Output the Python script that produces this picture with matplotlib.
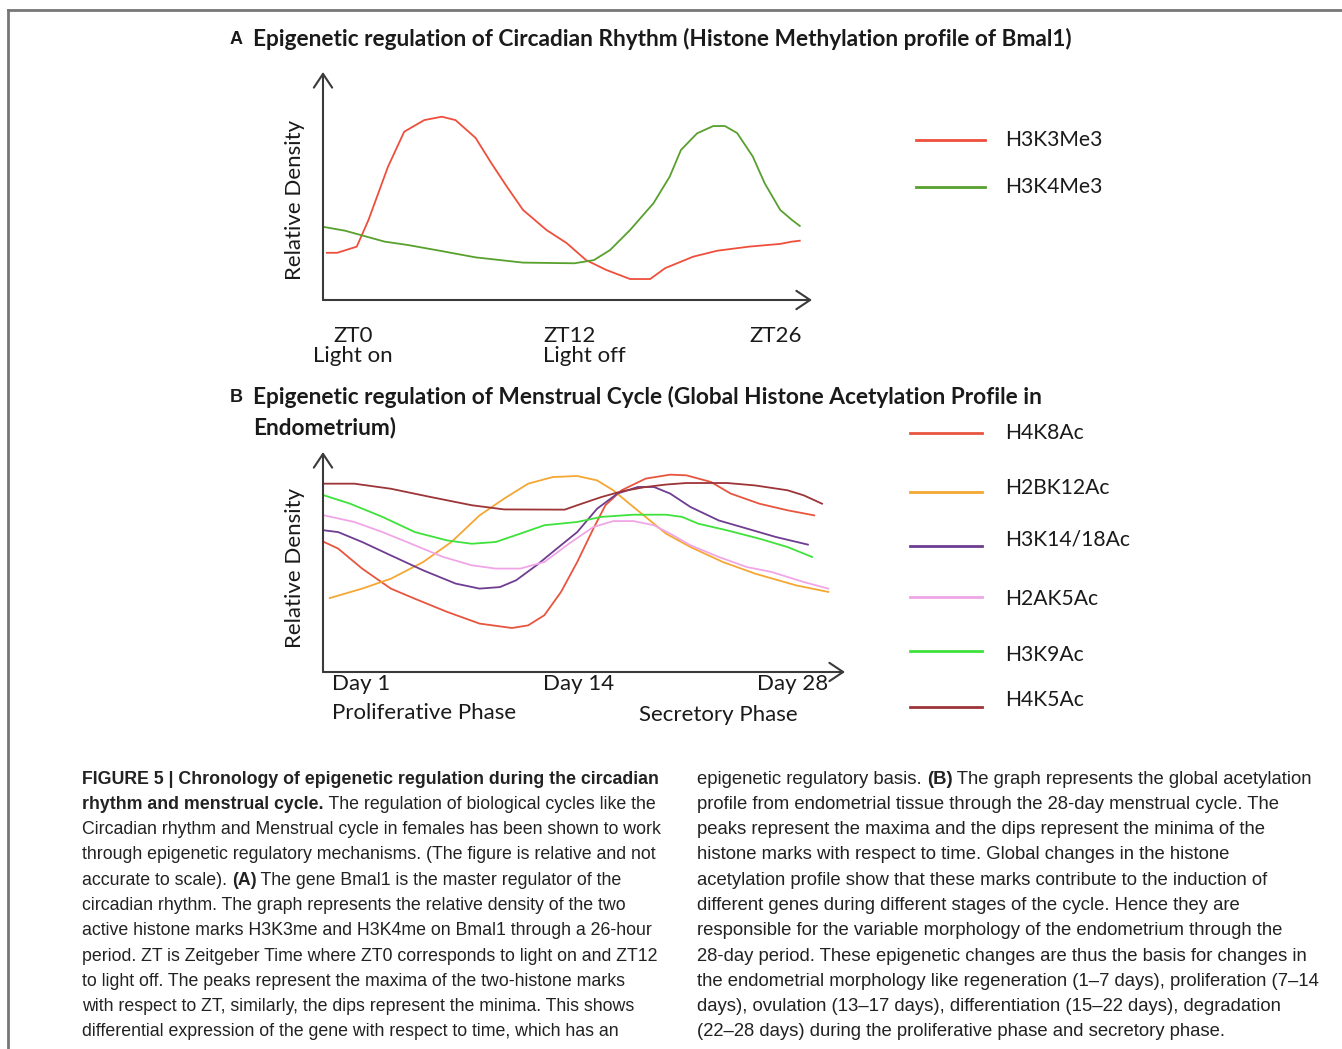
import matplotlib
matplotlib.use("Agg")
import matplotlib.pyplot as plt

W, H = 1342, 1049

# ---- panel A: relative time along the axis (0-100) vs relative density (0-100)
a_x_h3k3 = [0.8, 2.9, 6.9, 9.3, 13.3, 16.6, 20.7, 24.3, 27.1, 31.2, 34.4, 37.6, 40.9,
            45.7, 49.8, 53.8, 57.9, 62.8, 66.9, 70.0, 75.7, 80.6, 87.1, 93.5, 95.9, 97.5]
a_y_h3k3 = [20.7, 20.7, 23.4, 35.1, 58.5, 73.8, 78.9, 80.4, 78.9, 71.1, 60.1, 49.7, 39.5,
            30.7, 25.0, 17.5, 13.2, 9.2, 9.2, 14.0, 19.0, 21.6, 23.4, 24.6, 25.6, 26.0]
a_x_h3k4 = [0.0, 4.5, 7.7, 12.6, 17.4, 23.9, 31.2, 40.9, 51.4, 55.4, 58.7, 62.8, 67.6,
            70.9, 73.2, 76.5, 79.8, 82.2, 84.7, 87.9, 90.3, 93.5, 95.9, 97.5]
a_y_h3k4 = [32.1, 30.4, 28.5, 25.6, 24.1, 21.6, 18.7, 16.4, 16.1, 17.5, 21.9, 30.7, 42.5,
            54.1, 65.8, 73.1, 76.3, 76.3, 73.2, 62.9, 51.3, 39.5, 35.1, 32.5]
a_labels = ["H3K3Me3", "H3K4Me3"]
a_colors = ["#ee4f3c", "#58a02e"]

# ---- panel B: relative day position (0-100) vs relative density (0-100)
b_x_h4k8 = [0.2, 2.9, 7.5, 13.0, 17.6, 23.8, 30.0, 36.2, 39.3, 42.4, 45.6, 48.7, 51.8,
            54.1, 57.2, 61.8, 66.5, 69.6, 74.3, 78.1, 83.6, 89.0, 94.1]
b_y_h4k8 = [59.1, 56.1, 47.0, 37.9, 33.3, 27.3, 22.0, 20.0, 21.2, 25.8, 36.4, 50.0, 65.2,
            75.8, 82.6, 87.9, 89.7, 89.4, 86.4, 81.1, 76.5, 73.5, 71.2]
b_x_h2bk12 = [1.3, 7.5, 13.0, 19.2, 24.6, 30.0, 34.7, 39.3, 44.0, 48.7, 52.5, 55.6, 58.7,
              61.8, 65.7, 70.4, 76.6, 82.8, 90.6, 96.8]
b_y_h2bk12 = [33.6, 37.9, 42.4, 50.0, 59.1, 71.2, 78.8, 85.6, 88.6, 89.1, 87.1, 82.6, 76.5,
              70.5, 62.9, 56.8, 50.0, 44.7, 39.4, 36.4]
b_x_h3k14 = [0.2, 2.9, 7.5, 13.0, 19.2, 25.4, 30.0, 33.9, 37.0, 40.9, 44.8, 48.7, 52.5,
             56.4, 60.3, 63.4, 66.5, 70.4, 75.8, 81.2, 86.7, 92.9]
b_y_h3k14 = [64.4, 63.6, 59.1, 53.0, 46.2, 40.2, 37.9, 38.6, 41.7, 48.5, 56.1, 63.6, 74.2,
             81.1, 84.1, 84.1, 81.1, 75.0, 68.9, 65.2, 61.4, 57.9]
b_x_h2ak5 = [0.2, 6.0, 11.4, 17.6, 23.0, 28.5, 33.1, 37.8, 42.4, 47.1, 51.8, 55.6, 59.5,
             63.4, 66.5, 70.4, 75.8, 81.2, 85.9, 92.1, 96.8]
b_y_h2ak5 = [71.2, 68.2, 63.6, 57.6, 52.3, 48.5, 47.0, 47.0, 50.0, 58.3, 65.9, 68.6, 68.6,
             66.7, 62.9, 57.6, 52.3, 47.7, 45.5, 40.9, 37.9]
b_x_h3k9 = [0.2, 5.2, 11.4, 17.6, 23.8, 28.5, 33.1, 37.8, 42.4, 48.7, 53.3, 59.5, 65.7,
            68.8, 71.9, 77.4, 83.6, 89.0, 93.7]
b_y_h3k9 = [80.3, 76.5, 70.5, 63.6, 59.8, 58.3, 59.1, 62.9, 66.7, 68.2, 70.5, 71.5, 71.5,
            70.5, 67.4, 64.4, 60.6, 56.8, 52.3]
b_x_h4k5 = [0.2, 6.0, 13.0, 20.7, 28.5, 34.7, 46.3, 48.7, 53.3, 57.2, 61.8, 65.7, 69.6,
            77.4, 82.8, 89.0, 92.1, 95.6]
b_y_h4k5 = [85.6, 85.6, 83.3, 79.5, 75.8, 73.9, 73.8, 75.8, 79.5, 82.1, 84.1, 85.2, 85.9,
            85.9, 84.8, 82.6, 80.3, 76.5]
b_labels = ["H4K8Ac", "H2BK12Ac", "H3K14/18Ac", "H2AK5Ac", "H3K9Ac", "H4K5Ac"]
b_colors = ["#e8553e", "#f5a733", "#6e3d91", "#f0a6e6", "#3ee23a", "#9c3438"]

caption_left = [
    [("FIGURE 5 | Chronology of epigenetic regulation during the circadian", True)],
    [("rhythm and menstrual cycle.", True), (" The regulation of biological cycles like the", False)],
    [("Circadian rhythm and Menstrual cycle in females has been shown to work", False)],
    [("through epigenetic regulatory mechanisms. (The figure is relative and not", False)],
    [("accurate to scale). ", False), ("(A)", True), (" The gene Bmal1 is the master regulator of the", False)],
    [("circadian rhythm. The graph represents the relative density of the two", False)],
    [("active histone marks H3K3me and H3K4me on Bmal1 through a 26-hour", False)],
    [("period. ZT is Zeitgeber Time where ZT0 corresponds to light on and ZT12", False)],
    [("to light off. The peaks represent the maxima of the two-histone marks", False)],
    [("with respect to ZT, similarly, the dips represent the minima. This shows", False)],
    [("differential expression of the gene with respect to time, which has an", False)],
]
caption_right = [
    [("epigenetic regulatory basis. ", False), ("(B)", True), (" The graph represents the global acetylation", False)],
    [("profile from endometrial tissue through the 28-day menstrual cycle. The", False)],
    [("peaks represent the maxima and the dips represent the minima of the", False)],
    [("histone marks with respect to time. Global changes in the histone", False)],
    [("acetylation profile show that these marks contribute to the induction of", False)],
    [("different genes during different stages of the cycle. Hence they are", False)],
    [("responsible for the variable morphology of the endometrium through the", False)],
    [("28-day period. These epigenetic changes are thus the basis for changes in", False)],
    [("the endometrial morphology like regeneration (1\u20137 days), proliferation (7\u201314", False)],
    [("days), ovulation (13\u201317 days), differentiation (15\u201322 days), degradation", False)],
    [("(22\u201328 days) during the proliferative phase and secretory phase.", False)],
]

FIG_FONT = ["Lato", "DejaVu Sans"]
CAP_FONT = ["Liberation Sans", "DejaVu Sans"]
INK = "#1a1a1a"
AXC = "#3a3a3a"


def fx(x):
    return x / W


def fy(y):
    return 1 - y / H


def arrow_axes(ax):
    ap = dict(arrowstyle="->,head_length=0.45,head_width=0.3", color=AXC, lw=1.5,
              mutation_scale=22, shrinkA=0, shrinkB=0)
    ax.annotate("", xy=(0, 1), xytext=(0, 0), xycoords="axes fraction", arrowprops=ap)
    ax.annotate("", xy=(1, 0), xytext=(0, 0), xycoords="axes fraction", arrowprops=ap)
    ax.set_xlim(0, 100)
    ax.set_ylim(0, 100)
    ax.axis("off")


def rich_line(fig, x, y, parts, size):
    r = fig.canvas.get_renderer()
    for s, bold in parts:
        t = fig.text(fx(x), fy(y), s, fontsize=size, family=CAP_FONT, color="#222222",
                     fontweight="bold" if bold else "normal", ha="left", va="center")
        x += t.get_window_extent(r).width


fig = plt.figure(figsize=(W / 100, H / 100), dpi=100)

# frame (top and left rules)
fig.add_artist(plt.Line2D([fx(8), 1], [fy(10), fy(10)], color="#777777", lw=2))
fig.add_artist(plt.Line2D([fx(8), fx(8)], [fy(10), 0], color="#777777", lw=2))

# ---------------- panel A
fig.text(fx(230), fy(40), "A", fontsize=13, fontweight="bold", family=CAP_FONT, color=INK, va="center")
fig.text(fx(253), fy(39), "Epigenetic regulation of Circadian Rhythm (Histone Methylation profile of Bmal1)",
         fontsize=16.3, fontweight="bold", family=FIG_FONT, color=INK, va="center")

ax_a = fig.add_axes([fx(323), fy(300), fx(812) - fx(323), fy(72) - fy(300)])
arrow_axes(ax_a)
ax_a.plot(a_x_h3k3, a_y_h3k3, color=a_colors[0], lw=1.3)
ax_a.plot(a_x_h3k4, a_y_h3k4, color=a_colors[1], lw=1.3)
fig.text(fx(295), fy(200), "Relative Density", rotation=90, fontsize=16, family=FIG_FONT,
         color=INK, ha="center", va="center")

for s, x, y in [("ZT0", 333, 336), ("Light on", 313, 356), ("ZT12", 543, 336),
                ("Light off", 543, 356), ("ZT26", 749, 336)]:
    fig.text(fx(x), fy(y), s, fontsize=16, family=FIG_FONT, color=INK, va="center")

for lab, c, yl in zip(a_labels, a_colors, [140, 187]):
    fig.add_artist(plt.Line2D([fx(916), fx(985)], [fy(yl), fy(yl)], color=c, lw=2))
    fig.text(fx(1005), fy(yl), lab, fontsize=15.2, family=FIG_FONT, color=INK, va="center")

# ---------------- panel B
fig.text(fx(230), fy(398), "B", fontsize=13, fontweight="bold", family=CAP_FONT, color=INK, va="center")
fig.text(fx(253), fy(397), "Epigenetic regulation of Menstrual Cycle (Global Histone Acetylation Profile in",
         fontsize=16.3, fontweight="bold", family=FIG_FONT, color=INK, va="center")
fig.text(fx(253), fy(427), "Endometrium)", fontsize=16.3, fontweight="bold", family=FIG_FONT,
         color=INK, va="center")

ax_b = fig.add_axes([fx(323), fy(672), fx(845) - fx(323), fy(452) - fy(672)])
arrow_axes(ax_b)
b_series = [(b_x_h4k8, b_y_h4k8), (b_x_h2bk12, b_y_h2bk12), (b_x_h3k14, b_y_h3k14),
            (b_x_h2ak5, b_y_h2ak5), (b_x_h3k9, b_y_h3k9), (b_x_h4k5, b_y_h4k5)]
for (xs, ys), c in zip(b_series, b_colors):
    ax_b.plot(xs, ys, color=c, lw=1.3)
fig.text(fx(295), fy(568), "Relative Density", rotation=90, fontsize=16, family=FIG_FONT,
         color=INK, ha="center", va="center")

for s, x, y in [("Day 1", 332, 684), ("Day 14", 543, 684), ("Day 28", 757, 684),
                ("Proliferative Phase", 332, 713), ("Secretory Phase", 639, 715)]:
    fig.text(fx(x), fy(y), s, fontsize=16, family=FIG_FONT, color=INK, va="center")

for lab, c, yl, yt in zip(b_labels, b_colors, [433, 492, 546, 597, 651, 707],
                          [433, 488, 539, 599, 655, 700]):
    fig.add_artist(plt.Line2D([fx(910), fx(982)], [fy(yl), fy(yl)], color=c, lw=2))
    fig.text(fx(1005), fy(yt), lab, fontsize=15.2, family=FIG_FONT, color=INK, va="center")

# ---------------- caption
for i, parts in enumerate(caption_left):
    rich_line(fig, 82, 779 + i * 25.3, parts, 12.8)
for i, parts in enumerate(caption_right):
    rich_line(fig, 697, 779 + i * 25.3, parts, 13.3)

fig.savefig("out.png", dpi=100)
